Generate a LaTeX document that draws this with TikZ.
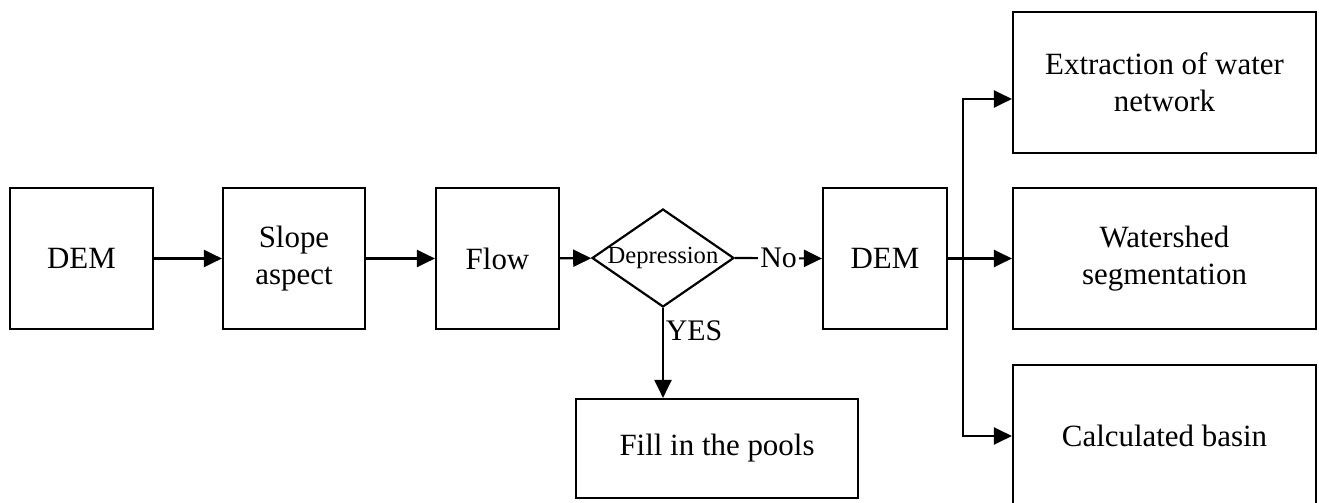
\documentclass[tikz,border=0pt]{standalone}
\usepackage{fontspec}
\setmainfont{Liberation Serif}
\usetikzlibrary{shapes.geometric,arrows.meta}
\begin{document}
\begin{tikzpicture}[x=0.02cm, y=-0.02cm, line width=1.25pt, >={Triangle[length=0.36cm,width=0.34cm]},
    box/.style={draw, rectangle, align=center, inner sep=0pt, font=\fontsize{17.6}{21}\selectfont},
    choice/.style={draw, diamond, aspect=1.45, inner sep=0pt, font=\fontsize{14}{16}\selectfont},
    lbl/.style={inner sep=1pt, font=\fontsize{17}{20}\selectfont}]
    \useasboundingbox (0,0) rectangle (1319,503);
    % Main chain
    \node[box, minimum width=2.86cm, minimum height=2.82cm] (dem1) at (81.5,258.5) {DEM};
    \node[box, minimum width=2.84cm, minimum height=2.82cm] (slope) at (294,258.5) {Slope\\aspect};
    \node[box, minimum width=2.46cm, minimum height=2.82cm] (flow) at (497.5,258.5) {Flow};
    \node[choice, minimum width=2.84cm, minimum height=1.96cm] (dep) at (663,258) {Depression};
    \node[box, minimum width=2.48cm, minimum height=2.82cm] (dem2) at (885,258.5) {DEM};
    \node[box, minimum width=5.64cm, minimum height=1.98cm] (pools) at (717,448.5) {Fill in the pools};
    % Results
    \node[box, minimum width=6.06cm, minimum height=2.82cm] (extract) at (1164.5,82.5) {Extraction of water\\network};
    \node[box, minimum width=6.06cm, minimum height=2.82cm] (shed) at (1164.5,258.5) {Watershed\\segmentation};
    \node[box, minimum width=6.06cm, minimum height=2.84cm] (basin) at (1164.5,436) {Calculated basin};
    \coordinate (split) at (963,258.5);

    \draw[->] (dem1) -- (slope);
    \draw[->] (slope) -- (flow);
    \draw[->] (flow) -- (dep);
    \draw[->] (dep.east) -- node[lbl, fill=white] {No} (dem2.west);
    \draw[->] (dep.south) -- node[lbl, pos=0.25, right] {YES} (dep.south |- pools.north);
    \draw (dem2.east) -- (split);
    \draw[->] (split) |- ([yshift=-0.33cm]extract.west);
    \draw[->] (split) -- (shed.west);
    \draw[->] (split) |- (basin.west);
\end{tikzpicture}
\end{document}
